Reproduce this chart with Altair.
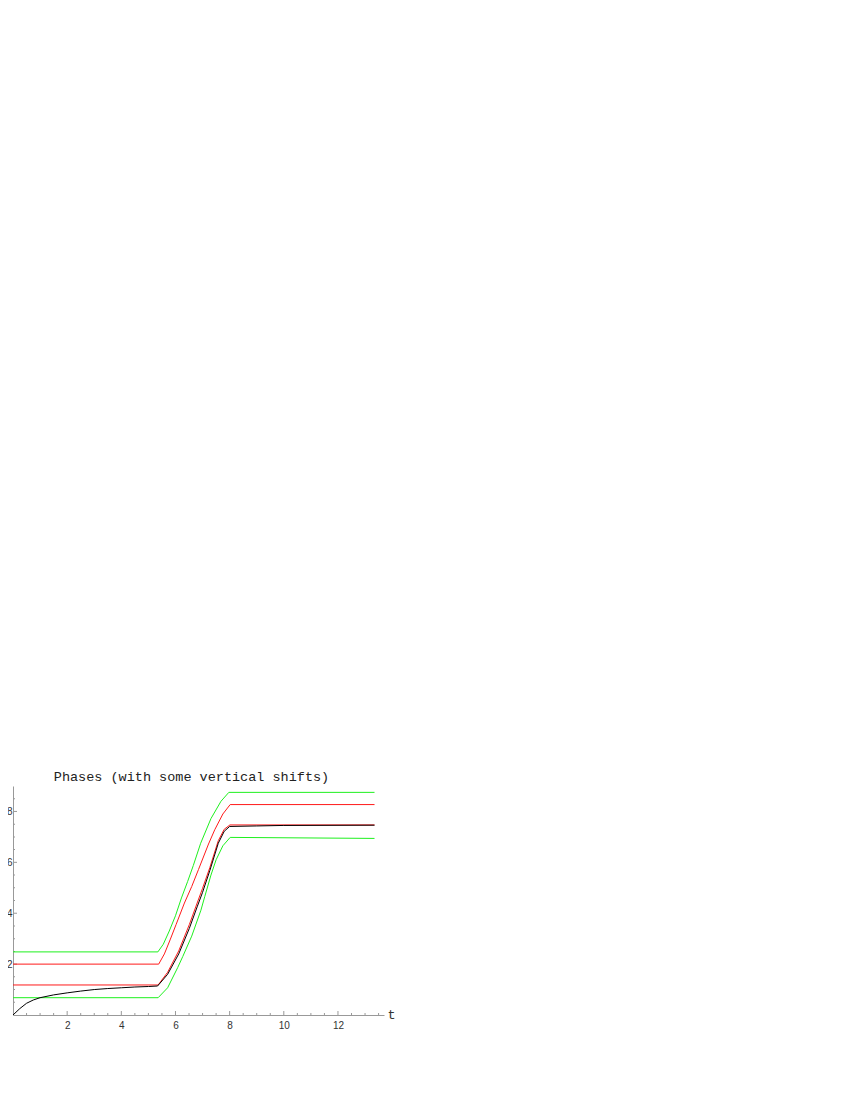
import altair as alt
import pandas as pd

# ---- data ----
g_top_t = [0, 5.35, 5.55, 5.77, 6.00, 6.22, 6.45, 6.66, 6.93, 7.31, 7.68, 7.97, 13.35]
g_top_v = [2.48, 2.48, 2.78, 3.30, 3.90, 4.60, 5.25, 5.88, 6.75, 7.72, 8.40, 8.75, 8.75]

r_top_t = [0, 5.38, 5.59, 5.80, 6.02, 6.33, 6.60, 6.85, 7.22, 7.45, 7.75, 8.02, 13.35]
r_top_v = [2.0, 2.0, 2.40, 2.95, 3.55, 4.40, 5.05, 5.72, 6.72, 7.28, 7.90, 8.27, 8.27]

r_low_t = [0, 5.36, 5.71, 6.12, 6.51, 6.80, 7.00, 7.27, 7.58, 7.80, 8.01, 13.35]
r_low_v = [1.18, 1.18, 1.68, 2.52, 3.55, 4.40, 4.98, 5.80, 6.85, 7.30, 7.47, 7.47]

g_low_t = [0, 5.36, 5.71, 6.08, 6.27, 6.60, 6.94, 7.08, 7.31, 7.50, 7.75, 8.02, 13.35]
g_low_v = [0.68, 0.68, 1.07, 1.86, 2.30, 3.10, 4.12, 4.65, 5.50, 6.10, 6.65, 6.98, 6.94]

k_t = [0, 0.25, 0.5, 0.75, 1.0, 1.5, 2.0, 2.5, 3.0, 3.5, 4.0, 4.5, 5.0, 5.34,
       5.71, 6.12, 6.51, 6.80, 7.00, 7.27, 7.58, 7.80, 8.00, 9.0, 10.0, 13.35]
k_v = [0, 0.25, 0.46, 0.59, 0.68, 0.79, 0.87, 0.94, 1.0, 1.04, 1.07, 1.10, 1.12, 1.14,
       1.60, 2.40, 3.40, 4.25, 4.82, 5.68, 6.75, 7.22, 7.41, 7.43, 7.45, 7.46]

series = [
    ("green upper", g_top_t, g_top_v),
    ("green lower", g_low_t, g_low_v),
    ("red upper", r_top_t, r_top_v),
    ("red lower", r_low_t, r_low_v),
    ("black", k_t, k_v),
]
series_names = [s[0] for s in series]
series_colors = ["#1ef01e", "#1ef01e", "#ff1a1a", "#ff1a1a", "#000000"]

x_major = [2, 4, 6, 8, 10, 12]
x_minor = [0.5, 1, 1.5, 2.5, 3, 3.5, 4.5, 5, 5.5, 6.5, 7, 7.5, 8.5, 9, 9.5,
           10.5, 11, 11.5, 12.5, 13, 13.5]
y_major = [2, 4, 6, 8]
y_minor = [0.5, 1, 1.5, 2.5, 3, 3.5, 4.5, 5, 5.5, 6.5, 7, 7.5, 8.5]

title_text = "Phases (with some vertical shifts)"

rows = []
for order, (name, ts, vs) in enumerate(series):
    for i, (t, v) in enumerate(zip(ts, vs)):
        rows.append({"series": name, "t": t, "v": v, "i": i, "o": order})
df = pd.DataFrame(rows)

AX = "#999999"
xscale = alt.Scale(domain=[0, 13.7], nice=False, zero=False)
yscale = alt.Scale(domain=[0, 9], nice=False, zero=False)

xaxis = alt.Axis(values=x_major, format="d", grid=False, ticks=False, tickSize=0,
                 domainColor=AX, domainWidth=1, labelPadding=5,
                 labelFont="Liberation Sans", labelFontSize=10, labelColor="#333333",
                 title="t", titleFont="Liberation Mono", titleFontSize=13.5,
                 titleFontWeight="normal", titleColor="#333333",
                 titleX=374, titleY=-1, titleAlign="left", titleBaseline="middle",
                 titleAngle=0)
yaxis = alt.Axis(values=y_major, format="d", grid=False, ticks=False, tickSize=0,
                 domainColor=AX, domainWidth=1, labelPadding=1,
                 labelFont="Liberation Sans", labelFontSize=10, labelColor="#333333",
                 title=None)

X = alt.X("t:Q", scale=xscale, axis=xaxis)
Y = alt.Y("v:Q", scale=yscale, axis=yaxis)

lines = alt.Chart(df).mark_line(strokeWidth=1, interpolate="linear").encode(
    x=X, y=Y,
    color=alt.Color("series:N", scale=alt.Scale(domain=series_names, range=series_colors), legend=None),
    detail="series:N",
    order=alt.Order("i:Q"),
)

# draw each series separately so the black curve is on top
layers = []
for name in series_names:
    layers.append(lines.transform_filter(alt.datum.series == name))

xt_major = pd.DataFrame({"t": x_major, "v": [0] * len(x_major)})
xt_minor = pd.DataFrame({"t": x_minor, "v": [0] * len(x_minor)})
yt_major = pd.DataFrame({"t": [0] * len(y_major), "v": y_major})
yt_minor = pd.DataFrame({"t": [0] * len(y_minor), "v": y_minor})

tick_x1 = alt.Chart(xt_major).mark_tick(orient="vertical", size=4, thickness=1, yOffset=-2,
                                        color=AX, opacity=1).encode(x=X, y=Y)
tick_x2 = alt.Chart(xt_minor).mark_tick(orient="vertical", size=2, thickness=1, yOffset=-1,
                                        color=AX, opacity=1).encode(x=X, y=Y)
tick_y1 = alt.Chart(yt_major).mark_tick(orient="horizontal", size=4, thickness=1, xOffset=2,
                                        color=AX, opacity=1).encode(x=X, y=Y)
tick_y2 = alt.Chart(yt_minor).mark_tick(orient="horizontal", size=2, thickness=1, xOffset=1,
                                        color=AX, opacity=1).encode(x=X, y=Y)

chart = alt.layer(tick_x1, tick_x2, tick_y1, tick_y2, *layers).properties(
    width=371,
    height=229,
    title=alt.TitleParams(text=title_text, font="Liberation Mono", fontSize=13.5,
                          fontWeight="normal", color="#222222", anchor="middle",
                          frame="group", dx=-7, offset=-8, baseline="alphabetic"),
    autosize=alt.AutoSizeParams(type="none"),
    padding={"left": 5, "top": 778, "right": 24, "bottom": 24},
).configure(background="white").configure_view(stroke=None)

chart.save("out.html", embed_options={"renderer": "svg", "actions": False})
